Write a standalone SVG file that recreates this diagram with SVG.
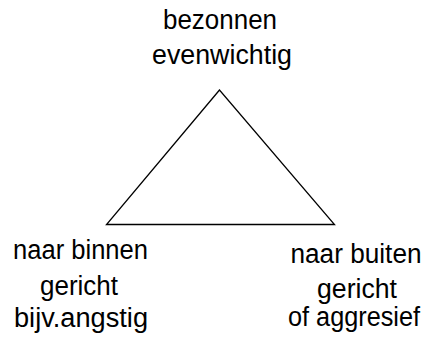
<svg xmlns="http://www.w3.org/2000/svg" width="428" height="338" viewBox="0 0 428 338">
<style>
text{font-family:"Liberation Sans",Arial,sans-serif;font-size:27px;fill:#000;text-anchor:middle}
.edge{fill:none;stroke:#000;stroke-width:1.3}
</style>
<rect width="428" height="338" fill="#fff"/>
<g id="connectors">
<polygon class="edge" points="219.5,90 106.5,224.5 334.5,224.5"/>
</g>
<g id="top">
<text x="220" y="29" textLength="114" lengthAdjust="spacingAndGlyphs">bezonnen</text>
<text x="222" y="64" textLength="140" lengthAdjust="spacingAndGlyphs">evenwichtig</text>
</g>
<g id="left">
<text x="80.5" y="258.5" textLength="135" lengthAdjust="spacingAndGlyphs">naar binnen</text>
<text x="79" y="294.5" textLength="78" lengthAdjust="spacingAndGlyphs">gericht</text>
<text x="81" y="327" textLength="134" lengthAdjust="spacingAndGlyphs">bijv.angstig</text>
</g>
<g id="right">
<text x="356" y="263" textLength="131" lengthAdjust="spacingAndGlyphs">naar buiten</text>
<text x="357" y="298" textLength="80" lengthAdjust="spacingAndGlyphs">gericht</text>
<text x="354" y="326" font-size="26" textLength="132" lengthAdjust="spacingAndGlyphs">of aggresief</text>
</g>
</svg>
